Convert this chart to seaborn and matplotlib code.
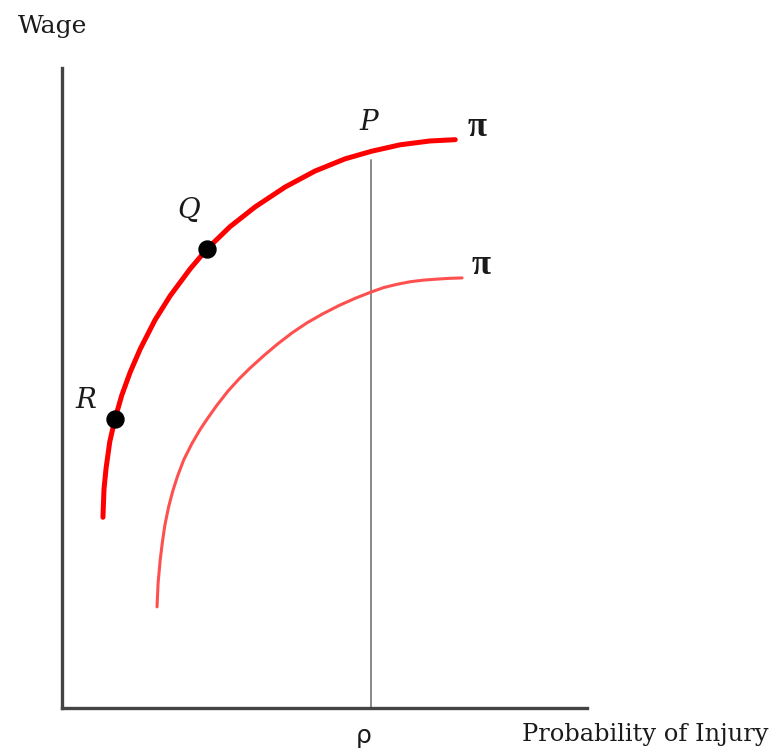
import matplotlib
matplotlib.use("Agg")
import matplotlib.pyplot as plt
import pandas as pd
import seaborn as sns

# Points (x: probability of injury, y: wage, 0-10 units)
upper_x = [0.78, 0.80, 0.84, 0.91, 1.01, 1.14, 1.30, 1.49, 1.77, 2.06, 2.44,
           2.76, 3.20, 3.68, 4.25, 4.82, 5.39, 5.90, 6.44, 7.01, 7.49]
upper_y = [2.98, 3.42, 3.75, 4.16, 4.52, 4.89, 5.25, 5.61, 6.06, 6.44, 6.86,
           7.17, 7.52, 7.83, 8.14, 8.39, 8.58, 8.70, 8.80, 8.86, 8.88]
lower_x = [1.81, 1.83, 1.87, 1.91, 1.96, 2.03, 2.11, 2.20, 2.32, 2.48, 2.63,
           2.76, 2.95, 3.16, 3.37, 3.58, 3.85, 4.11, 4.38, 4.67, 4.97, 5.28,
           5.58, 5.89, 6.13, 6.38, 6.63, 6.88, 7.12, 7.37, 7.62]
lower_y = [1.58, 1.95, 2.31, 2.58, 2.86, 3.14, 3.39, 3.62, 3.88, 4.14, 4.35,
           4.51, 4.73, 4.95, 5.14, 5.31, 5.51, 5.69, 5.86, 6.02, 6.16, 6.29,
           6.40, 6.50, 6.57, 6.62, 6.66, 6.685, 6.70, 6.713, 6.72]
point_names = ["R", "Q"]
point_x = [1.01, 2.76]
point_y = [4.52, 7.17]
rho_x = 5.89
rho_top = 8.56

upper = pd.DataFrame({"x": upper_x, "y": upper_y})
lower = pd.DataFrame({"x": lower_x, "y": lower_y})
pts = pd.DataFrame({"x": point_x, "y": point_y, "name": point_names})

sns.set_style("white")
plt.rcParams["font.family"] = ["DejaVu Serif"]

fig = plt.figure(figsize=(7.78, 7.55), dpi=100)
ax = fig.add_axes([62 / 778, 47 / 755, 525 / 778, 640 / 755])

sns.lineplot(data=upper, x="x", y="y", sort=False, color="#ff0000", lw=3.6, ax=ax)
sns.lineplot(data=lower, x="x", y="y", sort=False, color="#ff5050", lw=2.2, ax=ax)
ax.plot([rho_x, rho_x], [0, rho_top], color="#888888", lw=1.4, zorder=1)
sns.scatterplot(data=pts, x="x", y="y", color="black", s=150, edgecolor="black",
                zorder=5, ax=ax)

ax.set_xlim(0, 10)
ax.set_ylim(0, 10)
ax.set_xticks([])
ax.set_yticks([])
ax.set_xlabel("")
ax.set_ylabel("")
for side in ["top", "right"]:
    ax.spines[side].set_visible(False)
for side in ["left", "bottom"]:
    ax.spines[side].set_color("#444444")
    ax.spines[side].set_linewidth(2.4)

ink = "#1a1a1a"


def fx(px):
    return px / 778


def fy(py):
    return 1 - py / 755


lab = dict(fontsize=20, fontstyle="italic", color=ink, ha="center", va="center")
fig.text(fx(369), fy(122), "P", **lab)
fig.text(fx(189), fy(210), "Q", **lab)
fig.text(fx(86), fy(400), "R", **lab)
pi = dict(fontsize=25, fontweight="bold", color=ink, ha="center", va="center",
          family="Liberation Serif")
fig.text(fx(477), fy(127), "π", **pi)
fig.text(fx(481), fy(265), "π", **pi)

fig.text(fx(53), fy(33), "Wage", fontsize=18, ha="center", va="baseline", color=ink)
fig.text(fx(645), fy(741), "Probability of Injury", fontsize=17.4,
         ha="center", va="baseline", color=ink)
fig.text(fx(364), fy(736), "ρ", fontsize=18, ha="center", va="center", color=ink,
         family="DejaVu Sans")

fig.savefig("out.png", dpi=100)
